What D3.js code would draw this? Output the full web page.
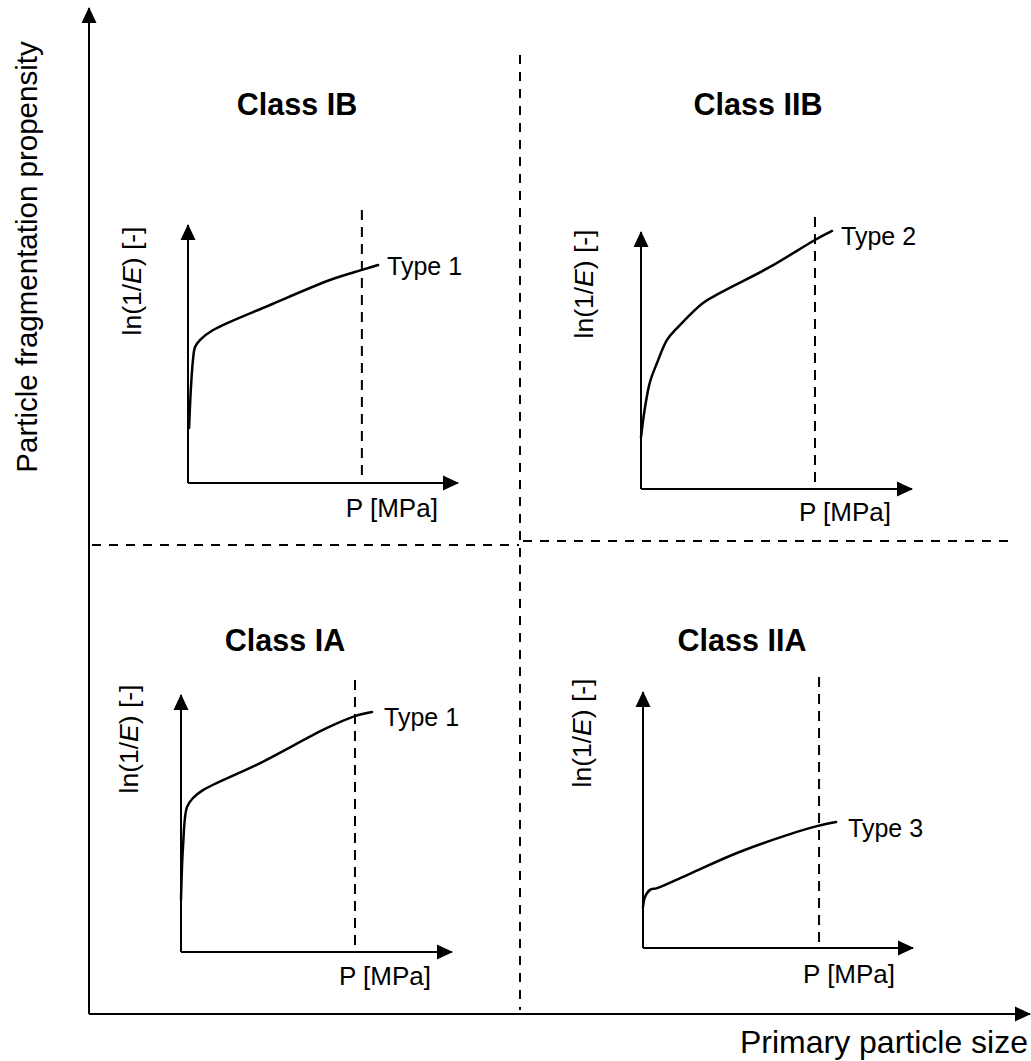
<!DOCTYPE html>
<html>
<head>
<meta charset="utf-8">
<script src="https://cdn.jsdelivr.net/npm/d3@7"></script>
<style>
  html, body { margin: 0; padding: 0; background: #fff; }
  svg text { font-family: "Liberation Sans", Arial, sans-serif; fill: #000; }
</style>
</head>
<body>
<svg id="chart" width="1031" height="1061"></svg>
<script>
// ---------------- data ----------------
const classTitles = ["Class IB", "Class IIB", "Class IA", "Class IIA"];
const curveTypes = ["Type 1", "Type 2", "Type 1", "Type 3"];
const xAxisLabel = "P [MPa]";
const mainXLabel = "Primary particle size";
const mainYLabel = "Particle fragmentation propensity";

// schematic curves: pressure (arbitrary units 0-100) vs ln(1/E) (arbitrary units 0-100)
const pressureIB  = [0.4, 1.1, 1.85, 2.6, 4.4, 9.3, 30.4, 52.6, 64.4, 70.4];
const lnInvEIB    = [21.3, 37.2, 47.7, 52.7, 55.4, 59.3, 69.0, 78.7, 82.6, 84.5];
const pressureIIB = [0, 1.5, 3.3, 5.9, 9.6, 13.3, 22.9, 29.2, 47.6, 64.2, 70.5];
const lnInvEIIB   = [20.2, 31.9, 41.6, 49.0, 58.0, 62.6, 72.4, 76.3, 86.4, 96.9, 100.4];
const pressureIA  = [0, 0.74, 2.2, 4.4, 8.1, 29.2, 53.9, 64.2, 70.5];
const lnInvEIA    = [20.2, 40.9, 56.4, 59.9, 63.0, 73.5, 87.2, 91.8, 93.4];
const pressureIIA = [0, 0.74, 2.6, 5.2, 16.3, 34.8, 53.3, 64.8, 71.5];
const lnInvEIIA   = [16.0, 19.9, 22.7, 23.4, 28.5, 37.1, 44.1, 47.7, 49.2];
// reference pressure marked by the dashed vertical line in each panel
const refPressure = [64.4, 64.2, 64.2, 65.2];

const seriesP = [pressureIB, pressureIIB, pressureIA, pressureIIA];
const seriesL = [lnInvEIB, lnInvEIIB, lnInvEIA, lnInvEIIA];

// ---------------- layout ----------------
const panelLayout = [
  { x0: 188, y0: 483, w: 270, h: 258, dashTop: 210, titleX: 297, titleY: 115, lnX: 141, lnY: 281, pY: 517, typeDx: 9, typeDy: 10 },
  { x0: 641, y0: 489, w: 271, h: 257, dashTop: 217, titleX: 758, titleY: 115, lnX: 593, lnY: 284, pY: 521, typeDx: 9, typeDy: 14 },
  { x0: 181, y0: 952, w: 271, h: 257, dashTop: 680, titleX: 285, titleY: 651, lnX: 138, lnY: 739, pY: 985, typeDx: 12, typeDy: 14 },
  { x0: 643, y0: 948, w: 270, h: 256, dashTop: 677, titleX: 742, titleY: 651, lnX: 591, lnY: 733, pY: 983, typeDx: 12, typeDy: 15 }
];

const svg = d3.select("#chart");

// arrowhead marker
const defs = svg.append("defs");
defs.append("marker")
  .attr("id", "arrow")
  .attr("viewBox", "0 0 16 16")
  .attr("refX", 15).attr("refY", 8)
  .attr("markerWidth", 16).attr("markerHeight", 16)
  .attr("markerUnits", "userSpaceOnUse")
  .attr("orient", "auto")
  .append("path")
  .attr("d", "M0,0.5 L16,8 L0,15.5 Z")
  .attr("fill", "#000");

// ---------------- main axes ----------------
const mainX = d3.scaleLinear().domain([0, 1]).range([89, 1030]);
const mainY = d3.scaleLinear().domain([0, 1]).range([1014, 8]);

svg.append("line")
  .attr("x1", mainX(0)).attr("y1", mainY(0))
  .attr("x2", mainX(0)).attr("y2", mainY(1))
  .attr("stroke", "#000").attr("stroke-width", 2)
  .attr("marker-end", "url(#arrow)");
svg.append("line")
  .attr("x1", mainX(0)).attr("y1", mainY(0))
  .attr("x2", mainX(1)).attr("y2", mainY(0))
  .attr("stroke", "#000").attr("stroke-width", 2)
  .attr("marker-end", "url(#arrow)");

svg.append("text")
  .attr("transform", "translate(37,257) rotate(-90)")
  .attr("text-anchor", "middle")
  .attr("font-size", 29.5)
  .text(mainYLabel);
svg.append("text")
  .attr("x", 1028).attr("y", 1053)
  .attr("text-anchor", "end")
  .attr("font-size", 32)
  .text(mainXLabel);

// quadrant dividers
const divider = { stroke: "#000", width: 2, dash: "9,8" };
svg.append("line")
  .attr("x1", 520).attr("y1", 55).attr("x2", 520).attr("y2", 1010)
  .attr("stroke", divider.stroke).attr("stroke-width", divider.width)
  .attr("stroke-dasharray", divider.dash);
svg.append("line")
  .attr("x1", 92).attr("y1", 545).attr("x2", 519).attr("y2", 545)
  .attr("stroke", divider.stroke).attr("stroke-width", divider.width)
  .attr("stroke-dasharray", divider.dash);
svg.append("line")
  .attr("x1", 523).attr("y1", 541).attr("x2", 1012).attr("y2", 541)
  .attr("stroke", divider.stroke).attr("stroke-width", divider.width)
  .attr("stroke-dasharray", divider.dash);

// ---------------- panels ----------------
panelLayout.forEach((L, i) => {
  const x = d3.scaleLinear().domain([0, 100]).range([L.x0, L.x0 + L.w]);
  const y = d3.scaleLinear().domain([0, 100]).range([L.y0, L.y0 - L.h]);
  const g = svg.append("g");

  // axes
  g.append("line")
    .attr("x1", x(0)).attr("y1", y(0)).attr("x2", x(0)).attr("y2", y(100))
    .attr("stroke", "#000").attr("stroke-width", 2)
    .attr("marker-end", "url(#arrow)");
  g.append("line")
    .attr("x1", x(0)).attr("y1", y(0)).attr("x2", x(100)).attr("y2", y(0))
    .attr("stroke", "#000").attr("stroke-width", 2)
    .attr("marker-end", "url(#arrow)");

  // reference pressure dashed line
  g.append("line")
    .attr("x1", x(refPressure[i])).attr("y1", L.dashTop)
    .attr("x2", x(refPressure[i])).attr("y2", y(0))
    .attr("stroke", "#000").attr("stroke-width", 2)
    .attr("stroke-dasharray", "10,7");

  // curve
  const pts = seriesP[i].map((p, k) => [p, seriesL[i][k]]);
  const line = d3.line()
    .x(d => x(d[0])).y(d => y(d[1]))
    .curve(d3.curveCatmullRom.alpha(0.5));
  g.append("path")
    .datum(pts)
    .attr("d", line)
    .attr("fill", "none")
    .attr("stroke", "#000")
    .attr("stroke-width", 2.5)
    .attr("stroke-linejoin", "round")
    .attr("stroke-linecap", "round");

  const last = pts[pts.length - 1];
  g.append("text")
    .attr("x", x(last[0]) + L.typeDx)
    .attr("y", y(last[1]) + L.typeDy)
    .attr("font-size", 25)
    .text(curveTypes[i]);

  // titles and labels
  g.append("text")
    .attr("x", L.titleX).attr("y", L.titleY)
    .attr("text-anchor", "middle")
    .attr("font-size", 30.5)
    .attr("font-weight", "bold")
    .text(classTitles[i]);

  g.append("text")
    .attr("x", x(refPressure[i]) + 30).attr("y", L.pY)
    .attr("text-anchor", "middle")
    .attr("font-size", 26)
    .text(xAxisLabel);

  const ln = g.append("text")
    .attr("transform", `translate(${L.lnX},${L.lnY}) rotate(-90)`)
    .attr("text-anchor", "middle")
    .attr("font-size", 26.5);
  ln.append("tspan").text("ln(1/");
  ln.append("tspan").attr("font-style", "italic").text("E");
  ln.append("tspan").text(") [-]");
});
</script>
</body>
</html>
